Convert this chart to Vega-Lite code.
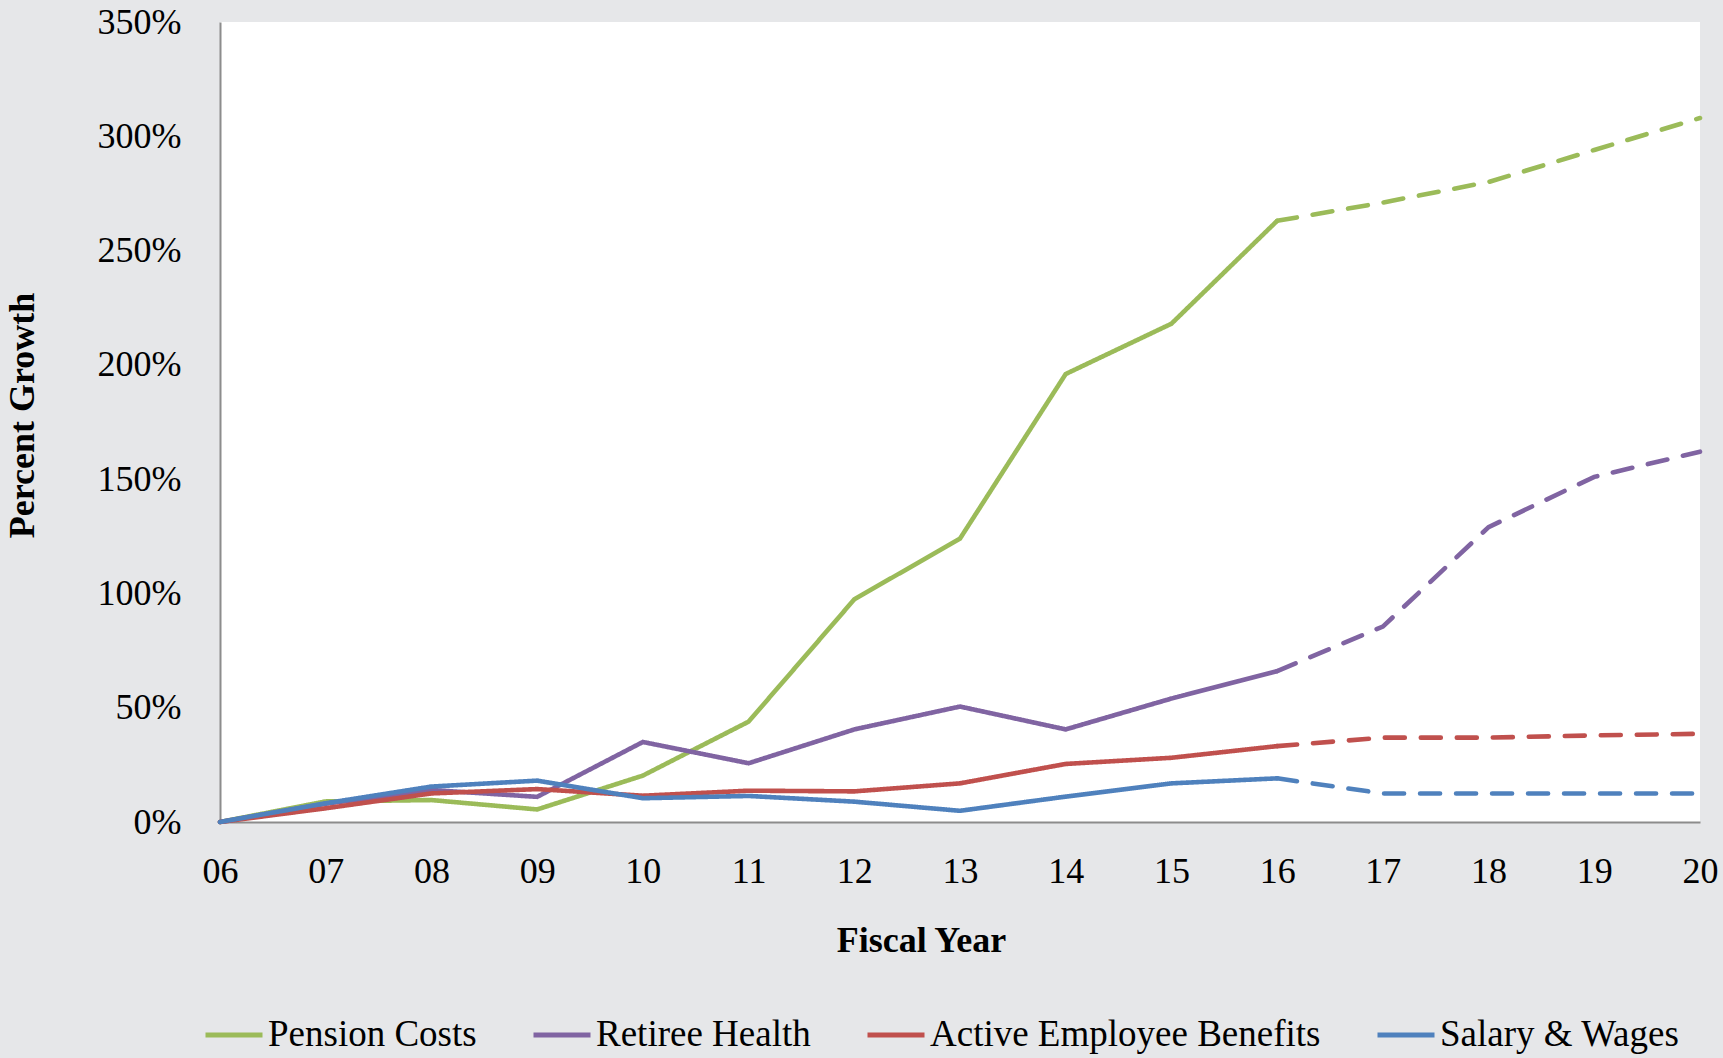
{
  "$schema": "https://vega.github.io/schema/vega-lite/v6.json",
  "width": 1480,
  "height": 800,
  "autosize": "none",
  "padding": {"left": 220, "top": 22, "right": 23, "bottom": 236},
  "background": "#e6e7e9",
  "config": {
    "view": {"stroke": null, "fill": "#ffffff"},
    "font": "Liberation Serif"
  },
  "data": {
    "values": [
      {"s": "Pension Costs", "yr": 6, "v": 0, "seg": "actual"},
      {"s": "Pension Costs", "yr": 7, "v": 9, "seg": "actual"},
      {"s": "Pension Costs", "yr": 8, "v": 9.6, "seg": "actual"},
      {"s": "Pension Costs", "yr": 9, "v": 5.5, "seg": "actual"},
      {"s": "Pension Costs", "yr": 10, "v": 20.3, "seg": "actual"},
      {"s": "Pension Costs", "yr": 11, "v": 43.9, "seg": "actual"},
      {"s": "Pension Costs", "yr": 12, "v": 97.4, "seg": "actual"},
      {"s": "Pension Costs", "yr": 13, "v": 124, "seg": "actual"},
      {"s": "Pension Costs", "yr": 14, "v": 196, "seg": "actual"},
      {"s": "Pension Costs", "yr": 15, "v": 218, "seg": "actual"},
      {"s": "Pension Costs", "yr": 16, "v": 263, "seg": "actual"},
      {"s": "Pension Costs", "yr": 16, "v": 263, "seg": "projected"},
      {"s": "Pension Costs", "yr": 17, "v": 271, "seg": "projected"},
      {"s": "Pension Costs", "yr": 18, "v": 280, "seg": "projected"},
      {"s": "Pension Costs", "yr": 19, "v": 294, "seg": "projected"},
      {"s": "Pension Costs", "yr": 20, "v": 308, "seg": "projected"},
      {"s": "Retiree Health", "yr": 6, "v": 0, "seg": "actual"},
      {"s": "Retiree Health", "yr": 7, "v": 8, "seg": "actual"},
      {"s": "Retiree Health", "yr": 8, "v": 14, "seg": "actual"},
      {"s": "Retiree Health", "yr": 9, "v": 11, "seg": "actual"},
      {"s": "Retiree Health", "yr": 10, "v": 35, "seg": "actual"},
      {"s": "Retiree Health", "yr": 11, "v": 25.7, "seg": "actual"},
      {"s": "Retiree Health", "yr": 12, "v": 40.5, "seg": "actual"},
      {"s": "Retiree Health", "yr": 13, "v": 50.5, "seg": "actual"},
      {"s": "Retiree Health", "yr": 14, "v": 40.5, "seg": "actual"},
      {"s": "Retiree Health", "yr": 15, "v": 54, "seg": "actual"},
      {"s": "Retiree Health", "yr": 16, "v": 66, "seg": "actual"},
      {"s": "Retiree Health", "yr": 16, "v": 66, "seg": "projected"},
      {"s": "Retiree Health", "yr": 17, "v": 85.5, "seg": "projected"},
      {"s": "Retiree Health", "yr": 18, "v": 129, "seg": "projected"},
      {"s": "Retiree Health", "yr": 19, "v": 151, "seg": "projected"},
      {"s": "Retiree Health", "yr": 20, "v": 162, "seg": "projected"},
      {"s": "Active Employee Benefits", "yr": 6, "v": 0, "seg": "actual"},
      {"s": "Active Employee Benefits", "yr": 7, "v": 6, "seg": "actual"},
      {"s": "Active Employee Benefits", "yr": 8, "v": 12.5, "seg": "actual"},
      {"s": "Active Employee Benefits", "yr": 9, "v": 14.4, "seg": "actual"},
      {"s": "Active Employee Benefits", "yr": 10, "v": 11.5, "seg": "actual"},
      {"s": "Active Employee Benefits", "yr": 11, "v": 13.7, "seg": "actual"},
      {"s": "Active Employee Benefits", "yr": 12, "v": 13.4, "seg": "actual"},
      {"s": "Active Employee Benefits", "yr": 13, "v": 16.9, "seg": "actual"},
      {"s": "Active Employee Benefits", "yr": 14, "v": 25.4, "seg": "actual"},
      {"s": "Active Employee Benefits", "yr": 15, "v": 28.1, "seg": "actual"},
      {"s": "Active Employee Benefits", "yr": 16, "v": 33.2, "seg": "actual"},
      {"s": "Active Employee Benefits", "yr": 16, "v": 33.2, "seg": "projected"},
      {"s": "Active Employee Benefits", "yr": 17, "v": 36.9, "seg": "projected"},
      {"s": "Active Employee Benefits", "yr": 18, "v": 36.9, "seg": "projected"},
      {"s": "Active Employee Benefits", "yr": 19, "v": 37.9, "seg": "projected"},
      {"s": "Active Employee Benefits", "yr": 20, "v": 38.6, "seg": "projected"},
      {"s": "Salary & Wages", "yr": 6, "v": 0, "seg": "actual"},
      {"s": "Salary & Wages", "yr": 7, "v": 8.2, "seg": "actual"},
      {"s": "Salary & Wages", "yr": 8, "v": 15.5, "seg": "actual"},
      {"s": "Salary & Wages", "yr": 9, "v": 18.1, "seg": "actual"},
      {"s": "Salary & Wages", "yr": 10, "v": 10.4, "seg": "actual"},
      {"s": "Salary & Wages", "yr": 11, "v": 11.4, "seg": "actual"},
      {"s": "Salary & Wages", "yr": 12, "v": 8.9, "seg": "actual"},
      {"s": "Salary & Wages", "yr": 13, "v": 4.9, "seg": "actual"},
      {"s": "Salary & Wages", "yr": 14, "v": 11.1, "seg": "actual"},
      {"s": "Salary & Wages", "yr": 15, "v": 16.9, "seg": "actual"},
      {"s": "Salary & Wages", "yr": 16, "v": 19.1, "seg": "actual"},
      {"s": "Salary & Wages", "yr": 16, "v": 19.1, "seg": "projected"},
      {"s": "Salary & Wages", "yr": 17, "v": 12.5, "seg": "projected"},
      {"s": "Salary & Wages", "yr": 18, "v": 12.5, "seg": "projected"},
      {"s": "Salary & Wages", "yr": 19, "v": 12.5, "seg": "projected"},
      {"s": "Salary & Wages", "yr": 20, "v": 12.5, "seg": "projected"}
    ]
  },
  "mark": {"type": "line", "strokeWidth": 4.6, "strokeCap": "round", "strokeJoin": "miter"},
  "encoding": {
    "x": {
      "field": "yr",
      "type": "quantitative",
      "scale": {"domain": [6, 20], "nice": false, "zero": false},
      "axis": {
        "values": [6, 7, 8, 9, 10, 11, 12, 13, 14, 15, 16, 17, 18, 19, 20],
        "labelExpr": "datum.value < 10 ? '0' + datum.value : '' + datum.value",
        "grid": false,
        "ticks": false,
        "tickSize": 0,
        "domainColor": "#8c8c8c",
        "domainWidth": 2,
        "labelFont": "Liberation Serif",
        "labelFontSize": 36,
        "labelColor": "#000000",
        "labelBaseline": "middle",
        "labelPadding": 49,
        "labelFlush": false,
        "labelOverlap": false,
        "title": "Fiscal Year",
        "titleFont": "Liberation Serif",
        "titleFontSize": 36,
        "titleFontWeight": "bold",
        "titleColor": "#000000",
        "titleX": 701,
        "titleY": 118,
        "titleAlign": "center",
        "titleBaseline": "middle"
      }
    },
    "y": {
      "field": "v",
      "type": "quantitative",
      "scale": {"domain": [0, 350], "nice": false},
      "axis": {
        "values": [0, 50, 100, 150, 200, 250, 300, 350],
        "labelExpr": "datum.value + '%'",
        "grid": false,
        "ticks": false,
        "tickSize": 0,
        "domainColor": "#8c8c8c",
        "domainWidth": 2,
        "labelFont": "Liberation Serif",
        "labelFontSize": 36,
        "labelColor": "#000000",
        "labelPadding": 39,
        "labelOverlap": false,
        "title": "Percent Growth",
        "titleFont": "Liberation Serif",
        "titleFontSize": 36,
        "titleFontWeight": "bold",
        "titleColor": "#000000",
        "titleAngle": -90,
        "titleX": -198,
        "titleY": 393,
        "titleAlign": "center",
        "titleBaseline": "middle"
      }
    },
    "color": {
      "field": "s",
      "type": "nominal",
      "sort": ["Pension Costs", "Retiree Health", "Active Employee Benefits", "Salary & Wages"],
      "scale": {
        "domain": ["Pension Costs", "Retiree Health", "Active Employee Benefits", "Salary & Wages"],
        "range": ["#9bbb59", "#8064a2", "#c0504d", "#4f81bd"]
      },
      "legend": {
        "orient": "none",
        "legendX": -17,
        "legendY": 982,
        "direction": "horizontal",
        "title": null,
        "symbolType": "stroke",
        "symbolSize": 3249,
        "symbolStrokeWidth": 5,
        "labelFont": "Liberation Serif",
        "labelFontSize": 37,
        "labelColor": "#000000",
        "labelOffset": 3,
        "labelLimit": 600,
        "columnPadding": 46
      }
    },
    "strokeDash": {
      "field": "seg",
      "type": "nominal",
      "scale": {"domain": ["actual", "projected"], "range": [[1, 0], [20, 16]]},
      "legend": null
    }
  }
}
